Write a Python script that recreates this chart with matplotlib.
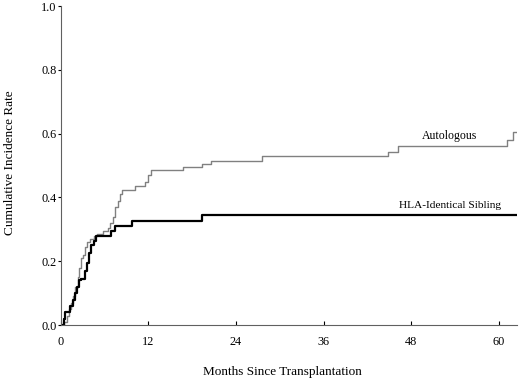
import numpy as np
import matplotlib.pyplot as plt

plt.rcParams['font.family'] = ['Liberation Serif', 'DejaVu Serif']

# Autologous cumulative incidence (months, rate)
auto_t = [0, 0.5, 0.8, 1.1, 1.4, 1.7, 2.0, 2.3, 2.5, 2.7, 3.0, 3.3, 3.6, 4.0, 4.5,
          5.0, 5.8, 6.4, 6.8, 7.1, 7.4, 7.8, 8.1, 8.4, 10.1, 11.5, 12.0, 12.3,
          16.8, 19.3, 20.6, 27.6, 44.9, 46.2, 61.2, 61.9, 62.5]
auto_y = [0, 0.01, 0.03, 0.05, 0.07, 0.09, 0.12, 0.15, 0.18, 0.21, 0.22, 0.245, 0.26,
          0.27, 0.28, 0.285, 0.295, 0.305, 0.32, 0.34, 0.37, 0.39, 0.41, 0.425, 0.435,
          0.45, 0.47, 0.486, 0.496, 0.505, 0.515, 0.53, 0.543, 0.561, 0.58, 0.605, 0.605]

# HLA-identical sibling
hla_t = [0, 0.5, 0.6, 1.3, 1.6, 1.9, 2.2, 2.5, 2.8, 3.3, 3.6, 3.9, 4.1, 4.6, 4.8,
         6.9, 7.4, 9.7, 19.3, 62.5]
hla_y = [0, 0.02, 0.042, 0.06, 0.08, 0.10, 0.12, 0.14, 0.145, 0.17, 0.195, 0.225,
         0.25, 0.265, 0.28, 0.295, 0.31, 0.325, 0.345, 0.345]

fig = plt.figure(figsize=(5.2, 3.82), dpi=100)
ax = fig.add_axes([0.117, 0.149, 0.877, 0.835])

ax.step(auto_t, auto_y, where='post', color='#808080', lw=1.0)
ax.step(hla_t, hla_y, where='post', color='black', lw=1.6)

ax.text(53.2, 0.592, "Autologous", ha='center', va='center', fontsize=8.5)
ax.text(53.3, 0.376, "HLA-Identical Sibling", ha='center', va='center', fontsize=8.2)

ax.set_xlim(0, 62.5)
ax.set_ylim(0, 1.0)
ax.set_xticks(np.arange(0, 61, 12))
ax.set_yticks(np.arange(0, 1.01, 0.2))
ax.yaxis.set_major_formatter(plt.FormatStrFormatter('%.1f'))
ax.tick_params(axis='x', direction='in', length=3, labelsize=8.8, pad=8)
ax.tick_params(axis='y', direction='out', length=2, labelsize=8.8, pad=1)

for s in ['top', 'right']:
    ax.spines[s].set_visible(False)
for s in ['left', 'bottom']:
    ax.spines[s].set_color('#606060')
    ax.spines[s].set_linewidth(0.8)

ax.set_xlabel("Months Since Transplantation", fontsize=9.5)
ax.xaxis.set_label_coords(0.485, -0.128)
ax.set_ylabel("Cumulative Incidence Rate", fontsize=9.5)
ax.yaxis.set_label_coords(-0.099, 0.51)

fig.savefig("out.png", dpi=100)
